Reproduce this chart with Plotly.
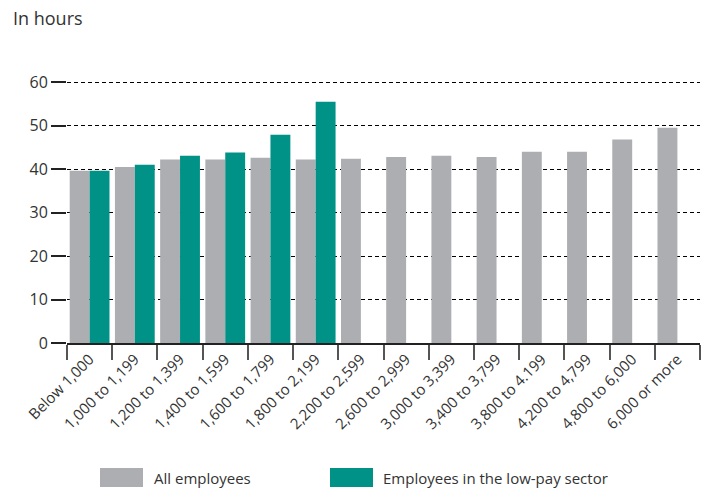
import plotly.graph_objects as go

categories = ["Below 1,000", "1,000 to 1,199", "1,200 to 1,399", "1,400 to 1,599",
              "1,600 to 1,799", "1,800 to 2,199", "2,200 to 2,599", "2,600 to 2,999",
              "3,000 to 3,399", "3,400 to 3,799", "3,800 to 4.199", "4,200 to 4,799",
              "4,800 to 6,000", "6,000 or more"]
all_employees = [39.6, 40.5, 42.2, 42.2, 42.6, 42.2, 42.4, 42.8, 43.1, 42.8, 44.0, 44.0, 46.8, 49.5]
low_pay = [39.6, 41.0, 43.1, 43.8, 47.9, 55.5, None, None, None, None, None, None, None, None]
series_names = ["All employees", "Employees in the low-pay sector"]
colors = ["#ADAEB2", "#009187"]

FONT = "Open Sans"
fig = go.Figure()
fig.add_trace(go.Bar(x=categories, y=all_employees, name=series_names[0],
                     marker=dict(color=colors[0], line=dict(width=0))))
fig.add_trace(go.Bar(x=categories, y=low_pay, name=series_names[1],
                     marker=dict(color=colors[1], line=dict(width=0))))

T, B, L = 80, 147, 67
PH = 490 - T - B
PW = 704 - L - 4
fig.update_layout(
    width=704, height=490,
    margin=dict(l=L, r=4, t=T, b=B, autoexpand=False),
    barmode="group", bargap=0.12, bargroupgap=0,
    plot_bgcolor="white", paper_bgcolor="white",
    showlegend=False,
    font=dict(family=FONT, color="#333333", size=15),
)
fig.update_yaxes(range=[0, 60.5], tickvals=[0, 10, 20, 30, 40, 50, 60], showgrid=True,
                 gridcolor="#000000", griddash="4px,3px", gridwidth=1, zeroline=False,
                 showline=False, automargin=False,
                 ticks="outside", ticklen=15, tickcolor="#222222", tickwidth=1.5,
                 tickfont=dict(size=16, color="#333333"))
fig.update_xaxes(showline=True, linecolor="#222222", linewidth=1.5, automargin=False,
                 ticks="outside", tickson="boundaries", ticklen=15,
                 tickcolor="#555555", tickwidth=1.5, tickangle=-45,
                 tickfont=dict(size=15, color="#333333"), showgrid=False)

def px_y(y):
    return (490 - B - y) / PH

def px_x(x):
    return (x - L) / PW

fig.add_annotation(text="In hours", xref="paper", yref="paper", x=px_x(11), y=px_y(18),
                   xanchor="left", yanchor="middle", showarrow=False,
                   font=dict(size=18, color="#333333"))

# legend drawn as swatches + labels
legend_items = [(100, 143, 152), (330, 373, 381)]
for (x0, x1, tx), name, col in zip(legend_items, series_names, colors):
    fig.add_shape(type="rect", xref="paper", yref="paper",
                  x0=px_x(x0), x1=px_x(x1), y0=px_y(487), y1=px_y(468),
                  fillcolor=col, line=dict(width=0))
    fig.add_annotation(text=name, xref="paper", yref="paper",
                       x=px_x(tx), y=px_y(478),
                       xanchor="left", yanchor="middle", showarrow=False,
                       font=dict(size=15, color="#333333"))

fig.write_html("out.html", config={"displayModeBar": False},
               post_script="document.body.style.margin='0px';")
